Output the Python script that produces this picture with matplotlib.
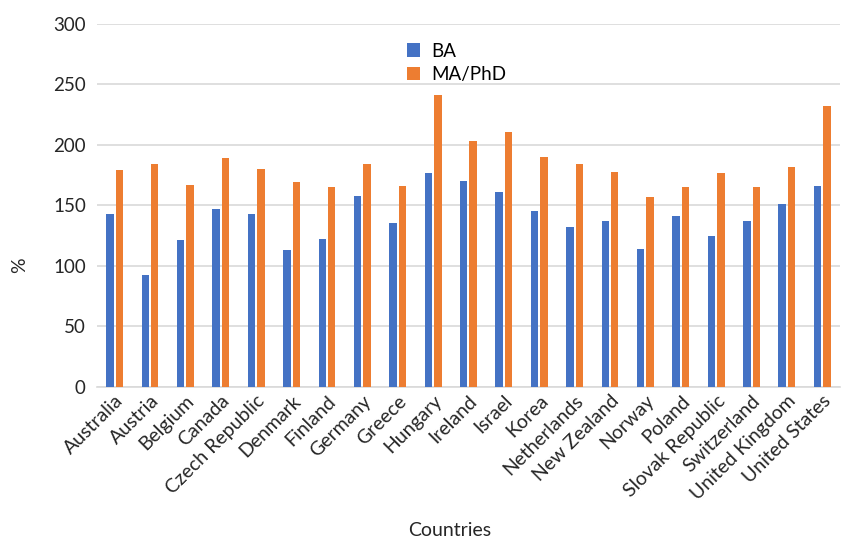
import matplotlib
matplotlib.use("Agg")
import matplotlib.pyplot as plt
import numpy as np

plt.rcParams.update({"font.family": ["Lato", "DejaVu Sans"], "font.size": 13})

countries = ["Australia", "Austria", "Belgium", "Canada", "Czech Republic", "Denmark",
             "Finland", "Germany", "Greece", "Hungary", "Ireland", "Israel", "Korea",
             "Netherlands", "New Zealand", "Norway", "Poland", "Slovak Republic",
             "Switzerland", "United Kingdom", "United States"]
ba = [143, 92, 121, 147, 143, 113, 122, 158, 135, 177, 170, 161, 145, 132, 137,
      114, 141, 125, 137, 151, 166]
ma_phd = [179, 184, 167, 189, 180, 169, 165, 184, 166, 241, 203, 211, 190, 184, 178,
          157, 165, 177, 165, 182, 232]

C_BA = "#4472C4"
C_MA = "#ED7D31"
GRID = "#D9D9D9"
TXT = "#262626"

fig = plt.figure(figsize=(8.41, 5.38), dpi=100)
ax = fig.add_axes([0.1153, 0.2812, 0.8835, 0.6742])

x = np.arange(len(countries))
w = 0.21
ax.bar(x - 0.133, ba, w, color=C_BA, label="BA", zorder=3)
ax.bar(x + 0.133, ma_phd, w, color=C_MA, label="MA/PhD", zorder=3)

ax.set_xlim(-0.5, len(countries) - 0.5)
ax.set_ylim(0, 300)
ax.set_yticks(range(0, 301, 50))
ax.yaxis.grid(True, color=GRID, linewidth=1.2, zorder=0)
ax.tick_params(axis="y", length=0, colors=TXT, labelsize=13.5, pad=8)
ax.tick_params(axis="x", length=0, colors=TXT, labelsize=14, pad=4)
ax.set_xticks(x)
ax.set_xticklabels(countries, rotation=45, ha="right", rotation_mode="anchor")
for s in ["top", "right", "left"]:
    ax.spines[s].set_visible(False)
ax.spines["bottom"].set_color(GRID)
ax.spines["bottom"].set_linewidth(1.2)

# axis titles placed in figure coordinates
fig.text(20 / 841, 1 - 265 / 538, "%", rotation=90, ha="center", va="center",
         fontsize=14, color=TXT)
fig.text(450 / 841, 1 - 530 / 538, "Countries", ha="center", va="center",
         fontsize=14, color=TXT)

ax.legend(loc="center", bbox_to_anchor=(0.484, 0.893), frameon=False, fontsize=13.5,
          handlelength=0.7, handleheight=0.7, handletextpad=0.6, labelspacing=0.35)

fig.savefig("out.png", dpi=100, facecolor="white")
